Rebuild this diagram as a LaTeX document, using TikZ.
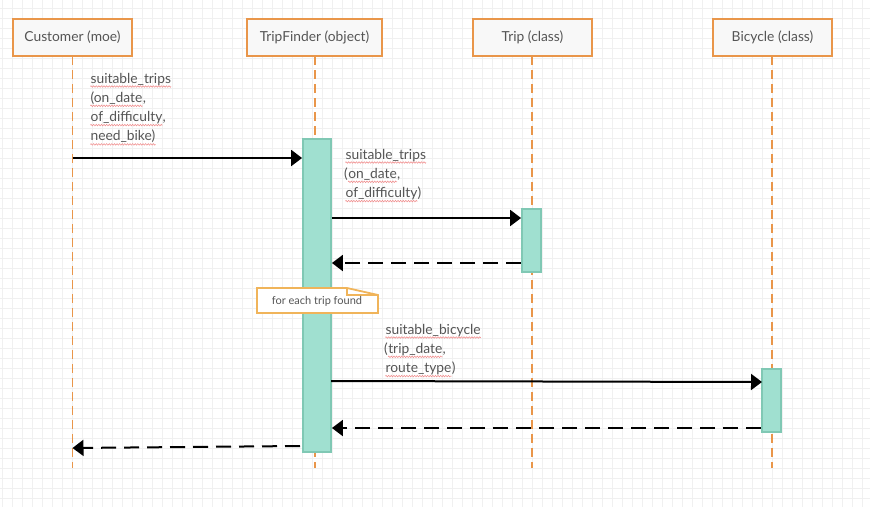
\documentclass[tikz,border=0pt]{standalone}
\usepackage{fontspec}
\setmainfont{Lato}
\usetikzlibrary{arrows.meta,decorations.pathmorphing}
\definecolor{gridc}{HTML}{F0F0F0}
\definecolor{lifec}{HTML}{E9964A}
\definecolor{notec}{HTML}{F0B45A}
\definecolor{actfill}{HTML}{A0E0D0}
\definecolor{actdraw}{HTML}{80C8B4}
\definecolor{boxfill}{HTML}{F8F8F8}
\definecolor{txtc}{HTML}{555555}
\definecolor{wavec}{HTML}{F08888}
\tikzset{
  actor/.style={draw=lifec, line width=2pt, fill=boxfill, minimum height=37pt, inner sep=0pt,
    text=txtc, font=\fontsize{13.8}{16}\selectfont},
  lifeline/.style={draw=lifec, line width=1.8pt, dash pattern=on 9pt off 5pt},
  activation/.style={draw=actdraw, line width=1.8pt, fill=actfill, inner sep=0pt},
  msg/.style={line width=2pt, -{Triangle[length=11pt,width=16pt]}},
  ret/.style={msg, dash pattern=on 15pt off 8pt},
  lbl/.style={anchor=base west, inner sep=0pt, text=txtc, font=\fontsize{13.8}{16}\selectfont},
  wave/.style={draw=wavec, line width=0.5pt, decorate,
    decoration={zigzag, amplitude=0.8pt, segment length=2.6pt}},
  notebox/.style={draw=notec, line width=1.8pt, fill=white},
}
% name, x, y, prefix, underlined word, suffix
\newcommand\wl[6]{%
  \node[lbl] (#1a) at (#2,#3) {#4};
  \node[lbl] (#1b) at (#1a.base east) {#5};
  \node[lbl] (#1c) at (#1b.base east) {#6};
  \draw[wave] ([yshift=-3.5pt]#1b.base west) -- ([yshift=-3.5pt]#1b.base east);
}
\begin{document}
\begin{tikzpicture}[x=1pt,y=-1pt]
\useasboundingbox (0,0) rectangle (870,507);
\fill[white] (0,0) rectangle (870,507);
% grid
\foreach \x in {2,12,...,862} \draw[gridc, line width=0.8pt] (\x,0) -- (\x,507);
\foreach \y in {8,18,...,498} \draw[gridc, line width=0.8pt] (0,\y) -- (870,\y);

% lifeline coordinates
\coordinate (custtop) at (72.5,56);
\coordinate (tftop) at (315,56);
\coordinate (triptop) at (532,56);
\coordinate (biketop) at (772,56);
\coordinate (custend) at (72.5,468);
\coordinate (tfend) at (315,468);
\coordinate (tripend) at (532,468);
\coordinate (bikeend) at (772,468);
\draw[lifeline] (custtop) -- (custend);
\draw[lifeline] (tftop) -- (tfend);
\draw[lifeline] (triptop) -- (tripend);
\draw[lifeline] (biketop) -- (bikeend);

% actors
\node[actor, minimum width=119pt] (cust) at (72.5,37.5) {Customer (moe)};
\node[actor, minimum width=135pt] (tf) at (314.5,37.5) {TripFinder (object)};
\node[actor, minimum width=119pt] (trip) at (532.5,37.5) {Trip (class)};
\node[actor, minimum width=119pt] (bike) at (772.5,37.5) {Bicycle (class)};

% activations
\node[activation, minimum width=28pt, minimum height=313pt] (tfact) at (317,295.5) {};
\node[activation, minimum width=19pt, minimum height=63pt] (tripact) at (531.5,240.5) {};
\node[activation, minimum width=19pt, minimum height=63pt] (bikeact) at (771.5,400.5) {};

% message 1
\coordinate (m1s) at (72.5,158);
\draw[msg] (m1s) -- (tfact.west |- m1s);
\wl{la}{89}{83}{}{suitable\_trips}{}
\wl{lb}{89}{102.3}{}{(on\_date}{,}
\wl{lc}{89}{121.6}{}{of\_difficulty}{,}
\wl{ld}{89}{140.9}{}{need\_bike)}{}

% message 2
\coordinate (m2s) at (331,218);
\draw[msg] (tfact.east |- m2s) -- (tripact.west |- m2s);
\wl{ma}{344}{159}{}{suitable\_trips}{}
\wl{mb}{344}{178.3}{(}{on\_date}{,}
\wl{mc}{344}{197.6}{}{of\_difficulty}{)}

% return 2
\coordinate (r2) at (331,263);
\draw[ret] (tripact.west |- r2) -- (tfact.east |- r2);

% note
\draw[notebox] (257,288) -- (347,288) -- (378,295) -- (378,313) -- (257,313) -- cycle;
\draw[notec, line width=1.2pt] (347,288) -- (347,295) -- (378,295);
\node[text=txtc, font=\fontsize{11}{13}\selectfont, inner sep=0pt] (note) at (317,301) {for each trip found};

% message 3
\coordinate (m3s) at (331,381);
\coordinate (m3e) at (762,382);
\draw[msg] (m3s) -- (m3e);
\wl{na}{384}{334}{}{suitable\_bicycle}{}
\wl{nb}{384}{353.3}{(}{trip\_date}{,}
\wl{nc}{384}{372.6}{}{route\_type}{)}

% return 3
\coordinate (r3) at (331,428);
\draw[ret] (bikeact.west |- r3) -- (tfact.east |- r3);

% return 1
\coordinate (r1s) at (300,446);
\coordinate (r1e) at (72.5,448);
\draw[ret] (r1s) -- (r1e);
\end{tikzpicture}
\end{document}
